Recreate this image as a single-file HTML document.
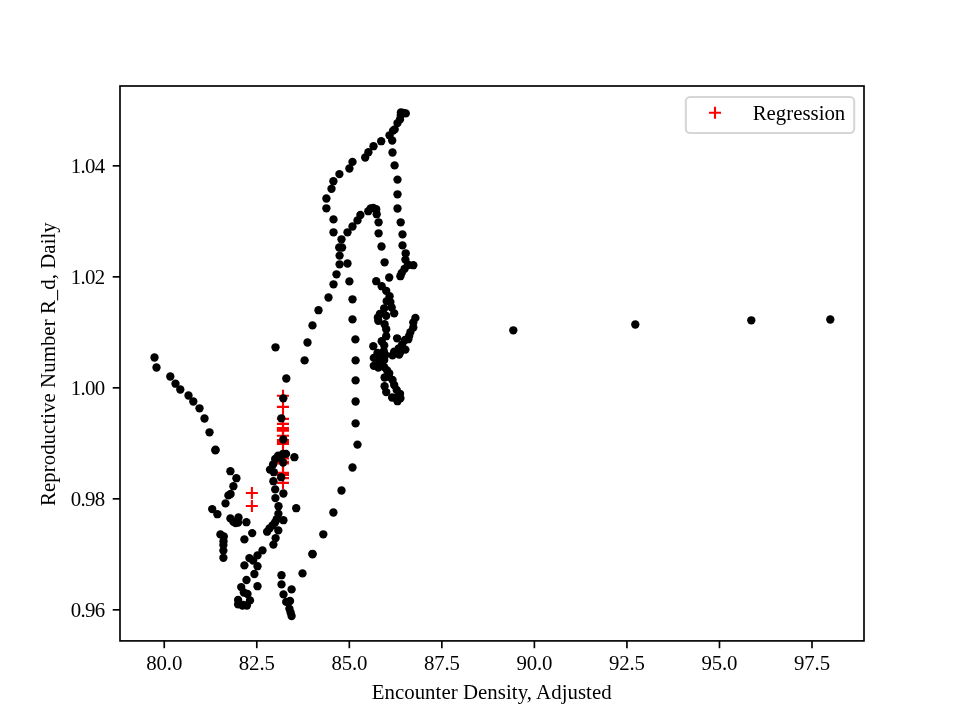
<!DOCTYPE html>
<html><head><meta charset="utf-8"><title>plot</title>
<style>
html,body{margin:0;padding:0;background:#fff;}
body{width:960px;height:720px;overflow:hidden;}
svg{display:block;}
text{font-family:"Liberation Serif",serif;font-size:20.83px;fill:#000;}
.tk{letter-spacing:-0.65px;}
.tx{letter-spacing:-0.15px;}
.lb{letter-spacing:0.05px;}
</style></head><body>
<svg style="will-change:transform" width="960" height="720" viewBox="0 0 960 720">
<rect x="0" y="0" width="960" height="720" fill="#fff"/>

<g stroke="#ff0000" stroke-width="2.08" fill="none">
<path d="M245.8 493.0h12.1M251.9 486.9v12.1"/>
<path d="M245.8 506.0h12.1M251.9 499.9v12.1"/>
<path d="M276.9 395.8h12.1M283.0 389.8v12.1"/>
<path d="M276.9 406.9h12.1M283.0 400.8v12.1"/>
<path d="M276.9 418.9h12.1M283.0 412.8v12.1"/>
<path d="M276.9 423.9h12.1M283.0 417.8v12.1"/>
<path d="M276.9 428.1h12.1M283.0 422.1v12.1"/>
<path d="M276.9 429.4h12.1M283.0 423.3v12.1"/>
<path d="M276.9 430.8h12.1M283.0 424.8v12.1"/>
<path d="M276.9 435.8h12.1M283.0 429.8v12.1"/>
<path d="M276.9 440.0h12.1M283.0 433.9v12.1"/>
<path d="M276.9 442.0h12.1M283.0 435.9v12.1"/>
<path d="M276.9 444.0h12.1M283.0 437.9v12.1"/>
<path d="M276.9 458.4h12.1M283.0 452.3v12.1"/>
<path d="M276.9 461.9h12.1M283.0 455.8v12.1"/>
<path d="M276.9 463.5h12.1M283.0 457.4v12.1"/>
<path d="M276.9 472.9h12.1M283.0 466.8v12.1"/>
<path d="M276.9 473.9h12.1M283.0 467.8v12.1"/>
<path d="M276.9 474.9h12.1M283.0 468.8v12.1"/>
<path d="M276.9 478.1h12.1M283.0 472.1v12.1"/>
<path d="M276.9 482.9h12.1M283.0 476.8v12.1"/>
</g>
<g fill="#000">
<circle cx="154.5" cy="357.5" r="4.17"/>
<circle cx="156.5" cy="367.5" r="4.17"/>
<circle cx="170.3" cy="376.5" r="4.17"/>
<circle cx="175.5" cy="383.7" r="4.17"/>
<circle cx="180.3" cy="389.5" r="4.17"/>
<circle cx="188.5" cy="395.5" r="4.17"/>
<circle cx="193.3" cy="401.5" r="4.17"/>
<circle cx="199.5" cy="408.3" r="4.17"/>
<circle cx="204.5" cy="418.5" r="4.17"/>
<circle cx="209.5" cy="432.3" r="4.17"/>
<circle cx="215.5" cy="449.7" r="4.17"/>
<circle cx="275.5" cy="347.3" r="4.17"/>
<circle cx="286.3" cy="378.5" r="4.17"/>
<circle cx="283.3" cy="398.3" r="4.17"/>
<circle cx="281.3" cy="418.3" r="4.17"/>
<circle cx="283.3" cy="439.5" r="4.17"/>
<circle cx="215.4" cy="450.4" r="4.17"/>
<circle cx="230.4" cy="471.2" r="4.17"/>
<circle cx="236.4" cy="478.2" r="4.17"/>
<circle cx="233.4" cy="486.2" r="4.17"/>
<circle cx="230.6" cy="494.0" r="4.17"/>
<circle cx="228.4" cy="495.4" r="4.17"/>
<circle cx="225.5" cy="503.4" r="4.17"/>
<circle cx="212.2" cy="509.1" r="4.17"/>
<circle cx="217.4" cy="514.2" r="4.17"/>
<circle cx="230.4" cy="518.4" r="4.17"/>
<circle cx="233.5" cy="521.9" r="4.17"/>
<circle cx="238.5" cy="517.5" r="4.17"/>
<circle cx="238.1" cy="522.5" r="4.17"/>
<circle cx="235.6" cy="523.1" r="4.17"/>
<circle cx="246.4" cy="522.2" r="4.17"/>
<circle cx="278.1" cy="455.6" r="4.17"/>
<circle cx="283.1" cy="453.8" r="4.17"/>
<circle cx="294.4" cy="457.2" r="4.17"/>
<circle cx="275.2" cy="459.0" r="4.17"/>
<circle cx="283.1" cy="462.5" r="4.17"/>
<circle cx="273.1" cy="464.4" r="4.17"/>
<circle cx="270.0" cy="469.6" r="4.17"/>
<circle cx="273.8" cy="472.2" r="4.17"/>
<circle cx="281.2" cy="477.2" r="4.17"/>
<circle cx="273.4" cy="481.2" r="4.17"/>
<circle cx="275.2" cy="489.4" r="4.17"/>
<circle cx="283.4" cy="493.5" r="4.17"/>
<circle cx="275.4" cy="498.1" r="4.17"/>
<circle cx="278.5" cy="506.2" r="4.17"/>
<circle cx="296.2" cy="508.2" r="4.17"/>
<circle cx="278.4" cy="513.8" r="4.17"/>
<circle cx="283.4" cy="520.2" r="4.17"/>
<circle cx="280.9" cy="457.9" r="4.17"/>
<circle cx="220.4" cy="534.4" r="4.17"/>
<circle cx="223.8" cy="536.5" r="4.17"/>
<circle cx="223.5" cy="541.2" r="4.17"/>
<circle cx="223.4" cy="545.0" r="4.17"/>
<circle cx="223.4" cy="550.6" r="4.17"/>
<circle cx="223.4" cy="557.8" r="4.17"/>
<circle cx="252.2" cy="533.1" r="4.17"/>
<circle cx="244.4" cy="539.4" r="4.17"/>
<circle cx="275.6" cy="538.1" r="4.17"/>
<circle cx="273.4" cy="544.6" r="4.17"/>
<circle cx="262.5" cy="550.4" r="4.17"/>
<circle cx="257.5" cy="555.4" r="4.17"/>
<circle cx="249.4" cy="558.1" r="4.17"/>
<circle cx="253.1" cy="560.6" r="4.17"/>
<circle cx="244.4" cy="565.4" r="4.17"/>
<circle cx="257.5" cy="566.2" r="4.17"/>
<circle cx="254.4" cy="574.0" r="4.17"/>
<circle cx="246.5" cy="580.0" r="4.17"/>
<circle cx="257.5" cy="586.2" r="4.17"/>
<circle cx="241.2" cy="587.1" r="4.17"/>
<circle cx="243.8" cy="592.5" r="4.17"/>
<circle cx="247.5" cy="594.0" r="4.17"/>
<circle cx="238.1" cy="600.0" r="4.17"/>
<circle cx="250.0" cy="600.4" r="4.17"/>
<circle cx="238.1" cy="604.4" r="4.17"/>
<circle cx="242.5" cy="605.6" r="4.17"/>
<circle cx="246.9" cy="605.6" r="4.17"/>
<circle cx="281.5" cy="575.2" r="4.17"/>
<circle cx="281.5" cy="584.4" r="4.17"/>
<circle cx="291.6" cy="589.4" r="4.17"/>
<circle cx="283.5" cy="594.4" r="4.17"/>
<circle cx="286.2" cy="601.9" r="4.17"/>
<circle cx="290.0" cy="601.0" r="4.17"/>
<circle cx="289.4" cy="608.8" r="4.17"/>
<circle cx="290.6" cy="612.5" r="4.17"/>
<circle cx="302.5" cy="573.4" r="4.17"/>
<circle cx="312.5" cy="554.4" r="4.17"/>
<circle cx="276.7" cy="519.2" r="4.17"/>
<circle cx="275.0" cy="522.5" r="4.17"/>
<circle cx="272.5" cy="525.4" r="4.17"/>
<circle cx="269.6" cy="528.3" r="4.17"/>
<circle cx="267.1" cy="531.7" r="4.17"/>
<circle cx="278.3" cy="530.4" r="4.17"/>
<circle cx="323.3" cy="534.3" r="4.17"/>
<circle cx="312.5" cy="553.8" r="4.17"/>
<circle cx="291.6" cy="616.0" r="4.17"/>
<circle cx="243.3" cy="604.8" r="4.17"/>
<circle cx="357.5" cy="444.6" r="4.17"/>
<circle cx="352.5" cy="467.5" r="4.17"/>
<circle cx="341.5" cy="490.5" r="4.17"/>
<circle cx="333.4" cy="512.5" r="4.17"/>
<circle cx="304.6" cy="360.4" r="4.17"/>
<circle cx="355.6" cy="360.4" r="4.17"/>
<circle cx="355.6" cy="380.4" r="4.17"/>
<circle cx="355.6" cy="401.5" r="4.17"/>
<circle cx="355.6" cy="423.4" r="4.17"/>
<circle cx="373.3" cy="346.2" r="4.17"/>
<circle cx="381.7" cy="341.2" r="4.17"/>
<circle cx="386.2" cy="336.2" r="4.17"/>
<circle cx="384.2" cy="345.4" r="4.17"/>
<circle cx="397.1" cy="338.3" r="4.17"/>
<circle cx="405.0" cy="340.0" r="4.17"/>
<circle cx="409.2" cy="335.8" r="4.17"/>
<circle cx="402.1" cy="344.6" r="4.17"/>
<circle cx="398.8" cy="348.3" r="4.17"/>
<circle cx="405.4" cy="349.6" r="4.17"/>
<circle cx="394.2" cy="351.7" r="4.17"/>
<circle cx="400.0" cy="352.5" r="4.17"/>
<circle cx="392.5" cy="355.4" r="4.17"/>
<circle cx="373.8" cy="357.9" r="4.17"/>
<circle cx="373.8" cy="365.8" r="4.17"/>
<circle cx="378.3" cy="367.5" r="4.17"/>
<circle cx="380.0" cy="355.8" r="4.17"/>
<circle cx="383.8" cy="351.2" r="4.17"/>
<circle cx="384.2" cy="360.0" r="4.17"/>
<circle cx="384.2" cy="367.1" r="4.17"/>
<circle cx="379.2" cy="361.7" r="4.17"/>
<circle cx="377.5" cy="352.9" r="4.17"/>
<circle cx="389.2" cy="373.3" r="4.17"/>
<circle cx="384.6" cy="377.5" r="4.17"/>
<circle cx="392.5" cy="380.0" r="4.17"/>
<circle cx="384.6" cy="386.2" r="4.17"/>
<circle cx="394.2" cy="385.0" r="4.17"/>
<circle cx="386.2" cy="392.1" r="4.17"/>
<circle cx="396.7" cy="390.0" r="4.17"/>
<circle cx="400.0" cy="393.8" r="4.17"/>
<circle cx="392.1" cy="397.5" r="4.17"/>
<circle cx="400.4" cy="398.3" r="4.17"/>
<circle cx="397.5" cy="401.2" r="4.17"/>
<circle cx="395.8" cy="397.9" r="4.17"/>
<circle cx="399.2" cy="354.6" r="4.17"/>
<circle cx="385.4" cy="355.0" r="4.17"/>
<circle cx="408.3" cy="339.2" r="4.17"/>
<circle cx="387.1" cy="370.4" r="4.17"/>
<circle cx="388.8" cy="376.7" r="4.17"/>
<circle cx="376.2" cy="281.2" r="4.17"/>
<circle cx="381.7" cy="286.2" r="4.17"/>
<circle cx="386.2" cy="290.8" r="4.17"/>
<circle cx="389.6" cy="296.2" r="4.17"/>
<circle cx="386.7" cy="301.2" r="4.17"/>
<circle cx="391.7" cy="307.5" r="4.17"/>
<circle cx="384.2" cy="308.3" r="4.17"/>
<circle cx="394.2" cy="313.3" r="4.17"/>
<circle cx="380.0" cy="313.8" r="4.17"/>
<circle cx="386.2" cy="315.8" r="4.17"/>
<circle cx="377.9" cy="317.5" r="4.17"/>
<circle cx="378.3" cy="320.8" r="4.17"/>
<circle cx="384.6" cy="324.2" r="4.17"/>
<circle cx="386.2" cy="329.2" r="4.17"/>
<circle cx="389.2" cy="277.5" r="4.17"/>
<circle cx="400.4" cy="276.2" r="4.17"/>
<circle cx="415.4" cy="317.9" r="4.17"/>
<circle cx="413.3" cy="322.5" r="4.17"/>
<circle cx="413.3" cy="327.5" r="4.17"/>
<circle cx="410.4" cy="332.1" r="4.17"/>
<circle cx="390.4" cy="302.1" r="4.17"/>
<circle cx="378.6" cy="222.3" r="4.17"/>
<circle cx="378.6" cy="233.3" r="4.17"/>
<circle cx="381.5" cy="246.5" r="4.17"/>
<circle cx="384.6" cy="262.3" r="4.17"/>
<circle cx="400.7" cy="222.3" r="4.17"/>
<circle cx="402.5" cy="234.4" r="4.17"/>
<circle cx="402.5" cy="245.4" r="4.17"/>
<circle cx="405.7" cy="253.3" r="4.17"/>
<circle cx="405.4" cy="259.6" r="4.17"/>
<circle cx="413.3" cy="265.2" r="4.17"/>
<circle cx="407.9" cy="264.6" r="4.17"/>
<circle cx="404.6" cy="268.8" r="4.17"/>
<circle cx="401.7" cy="272.9" r="4.17"/>
<circle cx="394.6" cy="165.4" r="4.17"/>
<circle cx="397.5" cy="179.6" r="4.17"/>
<circle cx="397.5" cy="194.3" r="4.17"/>
<circle cx="397.5" cy="208.5" r="4.17"/>
<circle cx="326.4" cy="198.5" r="4.17"/>
<circle cx="326.4" cy="208.3" r="4.17"/>
<circle cx="333.5" cy="219.4" r="4.17"/>
<circle cx="333.5" cy="232.3" r="4.17"/>
<circle cx="341.5" cy="239.3" r="4.17"/>
<circle cx="339.2" cy="247.5" r="4.17"/>
<circle cx="342.1" cy="247.5" r="4.17"/>
<circle cx="347.5" cy="232.3" r="4.17"/>
<circle cx="352.5" cy="226.5" r="4.17"/>
<circle cx="357.5" cy="220.4" r="4.17"/>
<circle cx="360.4" cy="215.0" r="4.17"/>
<circle cx="368.3" cy="211.2" r="4.17"/>
<circle cx="370.8" cy="208.3" r="4.17"/>
<circle cx="376.2" cy="209.2" r="4.17"/>
<circle cx="376.7" cy="214.2" r="4.17"/>
<circle cx="373.3" cy="207.9" r="4.17"/>
<circle cx="339.6" cy="255.6" r="4.17"/>
<circle cx="339.6" cy="264.3" r="4.17"/>
<circle cx="347.5" cy="263.5" r="4.17"/>
<circle cx="336.5" cy="274.3" r="4.17"/>
<circle cx="333.5" cy="284.3" r="4.17"/>
<circle cx="349.4" cy="281.4" r="4.17"/>
<circle cx="328.5" cy="297.5" r="4.17"/>
<circle cx="352.5" cy="299.3" r="4.17"/>
<circle cx="318.5" cy="310.2" r="4.17"/>
<circle cx="312.5" cy="325.4" r="4.17"/>
<circle cx="307.5" cy="342.5" r="4.17"/>
<circle cx="352.5" cy="319.4" r="4.17"/>
<circle cx="355.4" cy="339.4" r="4.17"/>
<circle cx="400.9" cy="112.4" r="4.17"/>
<circle cx="405.8" cy="113.4" r="4.17"/>
<circle cx="403.4" cy="112.8" r="4.17"/>
<circle cx="400.0" cy="119.4" r="4.17"/>
<circle cx="397.5" cy="123.1" r="4.17"/>
<circle cx="393.1" cy="130.6" r="4.17"/>
<circle cx="389.5" cy="135.3" r="4.17"/>
<circle cx="392.2" cy="140.5" r="4.17"/>
<circle cx="381.2" cy="141.2" r="4.17"/>
<circle cx="373.5" cy="146.2" r="4.17"/>
<circle cx="368.4" cy="152.2" r="4.17"/>
<circle cx="365.2" cy="157.5" r="4.17"/>
<circle cx="352.5" cy="161.9" r="4.17"/>
<circle cx="349.4" cy="168.5" r="4.17"/>
<circle cx="339.4" cy="174.1" r="4.17"/>
<circle cx="333.4" cy="181.2" r="4.17"/>
<circle cx="331.5" cy="188.8" r="4.17"/>
<circle cx="392.5" cy="152.5" r="4.17"/>
<circle cx="400.8" cy="115.3" r="4.17"/>
<circle cx="394.7" cy="129.4" r="4.17"/>
<circle cx="513.3" cy="330.3" r="4.17"/>
<circle cx="635.3" cy="324.5" r="4.17"/>
<circle cx="751.3" cy="320.3" r="4.17"/>
<circle cx="830.3" cy="319.5" r="4.17"/>
<circle cx="408.4" cy="265.0" r="4.17"/>
<circle cx="286.0" cy="453.9" r="4.17"/>
</g>
<rect x="120.0" y="86.0" width="744.0" height="554.9" fill="none" stroke="#000" stroke-width="1.667"/>
<g stroke="#000" stroke-width="1.667">
<line x1="164.25" y1="640.9" x2="164.25" y2="648.2"/>
<line x1="256.79" y1="640.9" x2="256.79" y2="648.2"/>
<line x1="349.32" y1="640.9" x2="349.32" y2="648.2"/>
<line x1="441.86" y1="640.9" x2="441.86" y2="648.2"/>
<line x1="534.39" y1="640.9" x2="534.39" y2="648.2"/>
<line x1="626.93" y1="640.9" x2="626.93" y2="648.2"/>
<line x1="719.47" y1="640.9" x2="719.47" y2="648.2"/>
<line x1="812.00" y1="640.9" x2="812.00" y2="648.2"/>
<line x1="112.7" y1="165.85" x2="120.0" y2="165.85"/>
<line x1="112.7" y1="276.85" x2="120.0" y2="276.85"/>
<line x1="112.7" y1="387.85" x2="120.0" y2="387.85"/>
<line x1="112.7" y1="498.85" x2="120.0" y2="498.85"/>
<line x1="112.7" y1="609.85" x2="120.0" y2="609.85"/>
</g>
<text class="tx" x="164.25" y="669.5" text-anchor="middle">80.0</text>
<text class="tx" x="256.79" y="669.5" text-anchor="middle">82.5</text>
<text class="tx" x="349.32" y="669.5" text-anchor="middle">85.0</text>
<text class="tx" x="441.86" y="669.5" text-anchor="middle">87.5</text>
<text class="tx" x="534.39" y="669.5" text-anchor="middle">90.0</text>
<text class="tx" x="626.93" y="669.5" text-anchor="middle">92.5</text>
<text class="tx" x="719.47" y="669.5" text-anchor="middle">95.0</text>
<text class="tx" x="812.00" y="669.5" text-anchor="middle">97.5</text>
<text class="tk" x="104.6" y="173.00" text-anchor="end">1.04</text>
<text class="tk" x="104.6" y="284.00" text-anchor="end">1.02</text>
<text class="tk" x="104.6" y="395.00" text-anchor="end">1.00</text>
<text class="tk" x="104.6" y="506.00" text-anchor="end">0.98</text>
<text class="tk" x="104.6" y="617.00" text-anchor="end">0.96</text>
<text class="lb" x="491.7" y="699.0" text-anchor="middle">Encounter Density, Adjusted</text>
<text transform="translate(55.0 364.1) rotate(-90)" class="lb" text-anchor="middle">Reproductive Number R_d, Daily</text>
<rect x="685.8" y="97" width="168.4" height="36" rx="4.2" ry="4.2" fill="#fff" fill-opacity="0.8" stroke="#d6d6d6" stroke-width="2.08"/>
<path d="M708.95 112.8h12.1M715 106.75v12.1" stroke="#ff0000" stroke-width="2.08" fill="none"/>
<text x="752.7" y="119.7">Regression</text>
</svg></body></html>
